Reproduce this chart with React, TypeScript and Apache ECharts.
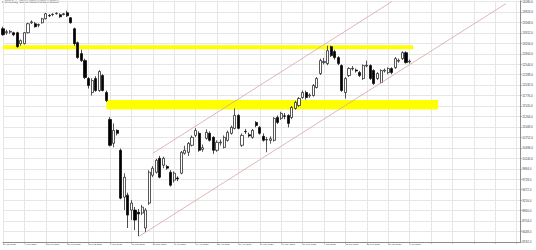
import React, { useEffect, useRef } from 'react';
import * as echarts from 'echarts';

const SYMBOL = 'DE30,Daily';
const CHANNEL_NAME = 'Graph Channel (1)';

const DATES = [
  '27 Jan 2020', '28 Jan 2020', '29 Jan 2020', '30 Jan 2020', '31 Jan 2020',
  '3 Feb 2020', '4 Feb 2020', '5 Feb 2020', '6 Feb 2020', '7 Feb 2020', '10 Feb 2020', '11 Feb 2020', '12 Feb 2020', '13 Feb 2020', '14 Feb 2020',
  '17 Feb 2020', '18 Feb 2020', '19 Feb 2020', '20 Feb 2020', '21 Feb 2020', '24 Feb 2020', '25 Feb 2020', '26 Feb 2020', '27 Feb 2020', '28 Feb 2020',
  '2 Mar 2020', '3 Mar 2020', '4 Mar 2020', '5 Mar 2020', '6 Mar 2020', '9 Mar 2020', '10 Mar 2020', '11 Mar 2020', '12 Mar 2020', '13 Mar 2020',
  '16 Mar 2020', '17 Mar 2020', '18 Mar 2020', '19 Mar 2020', '20 Mar 2020', '23 Mar 2020', '24 Mar 2020', '25 Mar 2020', '26 Mar 2020', '27 Mar 2020',
  '30 Mar 2020', '31 Mar 2020', '1 Apr 2020', '2 Apr 2020', '3 Apr 2020', '6 Apr 2020', '7 Apr 2020', '8 Apr 2020', '9 Apr 2020', '14 Apr 2020',
  '15 Apr 2020', '16 Apr 2020', '17 Apr 2020', '20 Apr 2020', '21 Apr 2020', '22 Apr 2020', '23 Apr 2020', '24 Apr 2020', '27 Apr 2020', '28 Apr 2020',
  '29 Apr 2020', '30 Apr 2020', '4 May 2020', '5 May 2020', '6 May 2020', '7 May 2020', '8 May 2020', '11 May 2020', '12 May 2020', '13 May 2020',
  '14 May 2020', '15 May 2020', '18 May 2020', '19 May 2020', '20 May 2020', '21 May 2020', '22 May 2020', '25 May 2020', '26 May 2020', '27 May 2020',
  '28 May 2020', '29 May 2020', '1 Jun 2020', '2 Jun 2020', '3 Jun 2020', '4 Jun 2020', '5 Jun 2020', '8 Jun 2020', '9 Jun 2020', '10 Jun 2020',
  '11 Jun 2020', '12 Jun 2020', '15 Jun 2020', '16 Jun 2020', '17 Jun 2020', '18 Jun 2020', '19 Jun 2020', '22 Jun 2020', '23 Jun 2020', '24 Jun 2020',
  '25 Jun 2020', '26 Jun 2020', '29 Jun 2020', '30 Jun 2020', '1 Jul 2020', '2 Jul 2020', '3 Jul 2020', '6 Jul 2020', '7 Jul 2020', '8 Jul 2020',
];

const OPEN = [
  13414, 13316, 13330, 13316, 13316, 13048, 13048, 13316, 13560, 13536,
  13500, 13560, 13658, 13740, 13760, 13780, 13755, 13760, 13804, 13682,
  13414, 13072, 12804, 12633, 12194, 11852, 12194, 11901, 12267, 11852,
  11193, 10608, 10925, 10437, 9290, 9339, 8973, 8973, 8920, 8900,
  8534, 9144, 9827, 9900, 10242, 10071, 10040, 9900, 9705, 9760,
  9876, 10364, 10388, 10559, 10803, 10852, 10460, 10730, 10852, 10754,
  10437, 10620, 10510, 10681, 10852, 10974, 11291, 10559, 10900, 10820,
  10754, 11120, 10998, 10779, 10690, 10681, 10681, 11242, 11218, 11280,
  11291, 11242, 11462, 11535, 11730, 11852, 11770, 11779, 11974, 12316,
  12584, 12560, 12975, 12853, 12706, 12511, 11852, 12267, 12430, 12400,
  12340, 12194, 12500, 12511, 12389, 12194, 12096, 12380, 12340, 12438,
  12462, 12620, 12682, 12828, 12600,
];

const CLOSE = [
  13267, 13341, 13350, 13267, 12975, 13121, 13316, 13536, 13580, 13463,
  13515, 13658, 13780, 13731, 13770, 13792, 13707, 13780, 13731, 13560,
  13048, 12706, 12633, 12218, 12023, 12145, 11901, 12365, 11901, 11657,
  10559, 10925, 10852, 9266, 9778, 8851, 9144, 8729, 8880, 9046,
  8973, 9900, 9998, 10193, 9778, 10242, 10000, 9583, 9876, 9740,
  10388, 10437, 10608, 10754, 10925, 10437, 10500, 10876, 10681, 10437,
  10632, 10640, 10754, 10876, 10998, 11291, 10974, 10803, 10890, 10790,
  10925, 11047, 10852, 10681, 10700, 10720, 11218, 11120, 11340, 11270,
  11096, 11486, 11608, 11706, 11852, 11730, 11790, 12023, 12194, 12633,
  12610, 12877, 12755, 12706, 12560, 11901, 12194, 12438, 12445, 12380,
  12267, 12511, 12520, 12194, 12072, 12316, 12389, 12400, 12438, 12340,
  12682, 12640, 12828, 12584, 12620,
];

const LOW = [
  13243, 13267, 13290, 13230, 12950, 13000, 13030, 13300, 13530, 13440,
  13450, 13540, 13640, 13700, 13720, 13760, 13680, 13740, 13700, 13540,
  13000, 12680, 12600, 12180, 11950, 11779, 11870, 11870, 11880, 11620,
  10530, 10510, 10800, 9240, 8973, 8534, 8729, 8485, 8338, 8850,
  8436, 9100, 9780, 9870, 9750, 10000, 9960, 9550, 9650, 9680,
  9850, 10330, 10300, 10530, 10760, 10400, 10400, 10700, 10650, 10350,
  10400, 10550, 10480, 10650, 10820, 10950, 10950, 10520, 10840, 10750,
  10720, 11000, 10820, 10650, 10388, 10600, 10650, 11080, 11180, 11200,
  10998, 11200, 11430, 11500, 11700, 11680, 11720, 11750, 11950, 12280,
  12540, 12520, 12720, 12660, 12520, 11870, 11706, 12230, 12390, 12340,
  12230, 12160, 12470, 12160, 12040, 12160, 12072, 12340, 12300, 12300,
  12430, 12580, 12650, 12560, 12560,
];

const HIGH = [
  13463, 13389, 13380, 13340, 13340, 13150, 13330, 13560, 13620, 13580,
  13540, 13680, 13800, 13770, 13790, 13815, 13790, 13800, 13853, 13700,
  13440, 13100, 12900, 12680, 12230, 12200, 12250, 12400, 12300, 11900,
  11250, 11096, 10950, 10480, 9876, 9400, 9217, 9050, 9000, 9100,
  9020, 9950, 10050, 10230, 10300, 10280, 10080, 9950, 9920, 9800,
  10420, 10550, 10640, 10800, 10980, 10900, 10580, 10950, 10900, 10780,
  10680, 10700, 10800, 10920, 11040, 11462, 11320, 10850, 10960, 10870,
  10960, 11150, 11030, 10850, 10760, 10780, 11250, 11290, 11380, 11350,
  11320, 11520, 11650, 11740, 11900, 11900, 11830, 12060, 12230, 12680,
  12700, 12999, 12999, 12900, 12740, 12540, 12230, 12470, 12500, 12440,
  12380, 12540, 12633, 12540, 12420, 12350, 12420, 12440, 12470, 12470,
  12720, 12680, 12860, 12860, 12660,
];

// empty bar slots to the right of the last bar (chart shift)
const FUTURE_SLOTS = 31;

// horizontal zones: [low, high] price and [from, to] bar index
const RESISTANCE_BAND = [12914, 13011];
const RESISTANCE_BARS = [0, 115];
const SUPPORT_BAND = [11437, 11669];
const SUPPORT_BARS = [29, 122];

// equidistant channel: [bar index, price] endpoints
const CHANNEL_LOWER = [[38, 8322], [141, 14028]];
const CHANNEL_UPPER = [[42, 10364], [109, 14076]];

const Y_MIN = 8192;
const Y_MAX = 14097;
const Y_STEP = 256;

export default function App() {
  const ref = useRef<HTMLDivElement>(null);

  useEffect(() => {
    document.body.style.margin = '0';
    const el = ref.current;
    if (!el) return;
    const chart = echarts.init(el, null, { renderer: 'svg' });

    const categories = [
      ...DATES,
      ...Array.from({ length: FUTURE_SLOTS }, (_, i) => '+' + (i + 1)),
    ];
    const candles = DATES.map((_, i) => [OPEN[i], CLOSE[i], LOW[i], HIGH[i]]);
    const last = DATES.length - 1;
    const fmt = (v: number) => v.toFixed(1);
    const header = `\u25BE ${SYMBOL}  ${fmt(OPEN[last])} ${fmt(HIGH[last])} ${fmt(LOW[last])} ${fmt(CLOSE[last])}`;

    const gridColor = '#e6e6e6';
    const axisColor = '#8c8c8c';
    const channelColor = '#d6a4a4';

    chart.setOption({
      animation: false,
      backgroundColor: '#ffffff',
      textStyle: { fontFamily: 'Liberation Sans, Arial, sans-serif' },
      grid: { left: 1, right: 15, top: 0, bottom: 8, containLabel: false },
      xAxis: {
        type: 'category',
        data: categories,
        boundaryGap: false,
        axisLine: { show: true, lineStyle: { color: axisColor, width: 1 } },
        axisTick: { show: true, interval: 5, length: 1.5, lineStyle: { color: axisColor } },
        axisLabel: {
          interval: 5,
          align: 'left',
          margin: 1.5,
          fontSize: 2.4,
          color: '#444',
          formatter: (v: string) => (v.startsWith('+') ? '' : v),
        },
        splitLine: { show: true, interval: 5, lineStyle: { color: gridColor, width: 1 } },
      },
      yAxis: {
        type: 'value',
        position: 'right',
        min: Y_MIN,
        max: Y_MAX,
        interval: Y_STEP,
        axisLine: { show: true, lineStyle: { color: axisColor, width: 1 } },
        axisTick: { show: true, length: 1.5, lineStyle: { color: axisColor } },
        axisLabel: {
          showMaxLabel: false,
          margin: 2,
          fontSize: 3,
          color: '#444',
          formatter: (v: number) => v.toFixed(1),
        },
        splitLine: { show: true, lineStyle: { color: gridColor, width: 1 } },
      },
      graphic: [
        {
          type: 'text',
          left: 2,
          top: 0.5,
          silent: true,
          style: { text: header, fontSize: 2.6, fill: '#333', fontFamily: 'Liberation Sans, Arial, sans-serif' },
        },
        {
          type: 'text',
          right: 17,
          top: 0.5,
          silent: true,
          style: { text: CHANNEL_NAME, fontSize: 2.4, fill: '#555', fontFamily: 'Liberation Sans, Arial, sans-serif' },
        },
      ],
      series: [
        {
          name: 'zones',
          type: 'line',
          data: [],
          z: 1,
          silent: true,
          markArea: {
            silent: true,
            itemStyle: { color: '#ffff00', opacity: 1 },
            data: [
              [
                { xAxis: RESISTANCE_BARS[0], yAxis: RESISTANCE_BAND[0] },
                { xAxis: RESISTANCE_BARS[1], yAxis: RESISTANCE_BAND[1] },
              ],
              [
                { xAxis: SUPPORT_BARS[0], yAxis: SUPPORT_BAND[0] },
                { xAxis: SUPPORT_BARS[1], yAxis: SUPPORT_BAND[1] },
              ],
            ],
          },
        },
        {
          name: SYMBOL,
          type: 'candlestick',
          data: candles,
          z: 2,
          barWidth: 2.6,
          silent: true,
          itemStyle: {
            color: '#ffffff',
            color0: '#000000',
            borderColor: '#111111',
            borderColor0: '#000000',
            borderWidth: 0.7,
          },
          markLine: {
            silent: true,
            symbol: 'none',
            lineStyle: { opacity: 0, width: 0 },
            label: {
              show: true,
              position: 'end',
              distance: 0,
              formatter: () => fmt(CLOSE[last]),
              backgroundColor: '#000000',
              color: '#ffffff',
              fontSize: 3,
              padding: [1, 1.5, 1, 1.5],
            },
            data: [{ yAxis: CLOSE[last] }],
          },
        },
        {
          name: 'channel lower',
          type: 'line',
          data: CHANNEL_LOWER,
          z: 3,
          symbol: 'none',
          silent: true,
          lineStyle: { color: channelColor, width: 0.8 },
        },
        {
          name: 'channel upper',
          type: 'line',
          data: CHANNEL_UPPER,
          z: 3,
          symbol: 'none',
          silent: true,
          lineStyle: { color: channelColor, width: 0.8 },
        },
      ],
    });

    return () => chart.dispose();
  }, []);

  return <div ref={ref} style={{ width: 536, height: 250, position: 'fixed', left: 0, top: 0 }} />;
}
